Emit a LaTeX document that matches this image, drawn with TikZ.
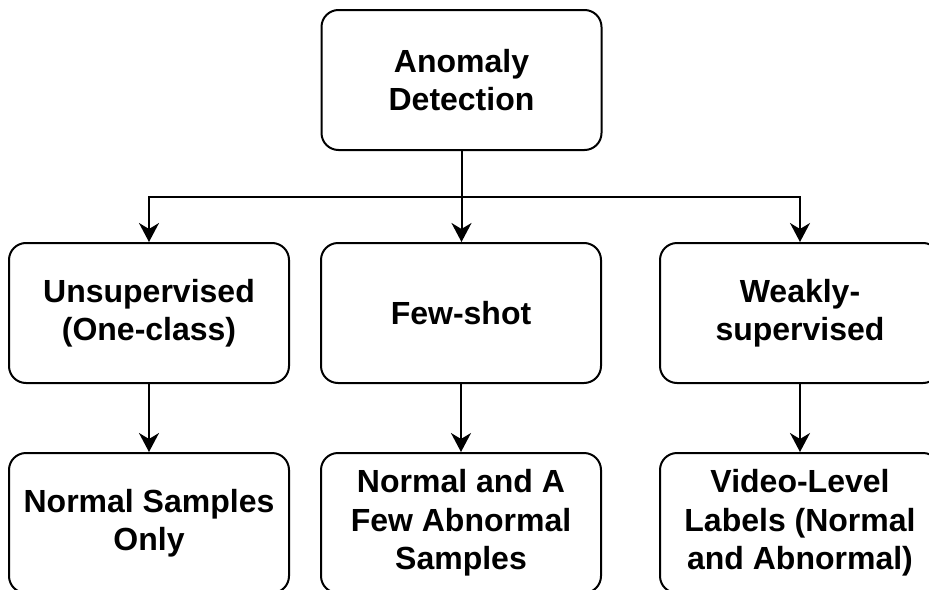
\documentclass[tikz,border=0pt]{standalone}
\usepackage{fontspec}
\setmainfont{Liberation Sans}
\usetikzlibrary{arrows.meta}
\begin{document}
\begin{tikzpicture}[x=1pt,y=-1pt,
  box/.style={draw, line width=2pt, rounded corners=17pt, minimum width=280pt, minimum height=140pt,
    align=center, inner sep=0pt, font=\bfseries\fontsize{32}{38.4}\selectfont},
  arr/.style={line width=2pt, -{Stealth[length=19pt,width=20pt,inset=6pt]}}]
\useasboundingbox (0,0) rectangle (929,589);
\node[box] (top) at (461.5,80) {Anomaly\\Detection};
\node[box] (uns) at (149,313) {Unsupervised\\(One-class)};
\node[box] (few) at (461,313) {Few-shot};
\node[box] (weak) at (800,313) {Weakly-\\supervised};
\node[box] (nor) at (149,523) {Normal Samples\\Only};
\node[box] (nfa) at (461,523) {Normal and A\\Few Abnormal\\Samples};
\node[box] (vid) at (800,523) {Video-Level\\Labels (Normal\\and Abnormal)};
\coordinate (split) at (461,197);
\draw[arr] (top.south) -- (top.south |- split) -| (uns.north);
\draw[arr] (top.south) -- (top.south |- split) -| (weak.north);
\draw[arr] (top.south) -- (top.south |- few.north);
\draw[arr] (uns) -- (nor);
\draw[arr] (few) -- (nfa);
\draw[arr] (weak) -- (vid);
\end{tikzpicture}
\end{document}
